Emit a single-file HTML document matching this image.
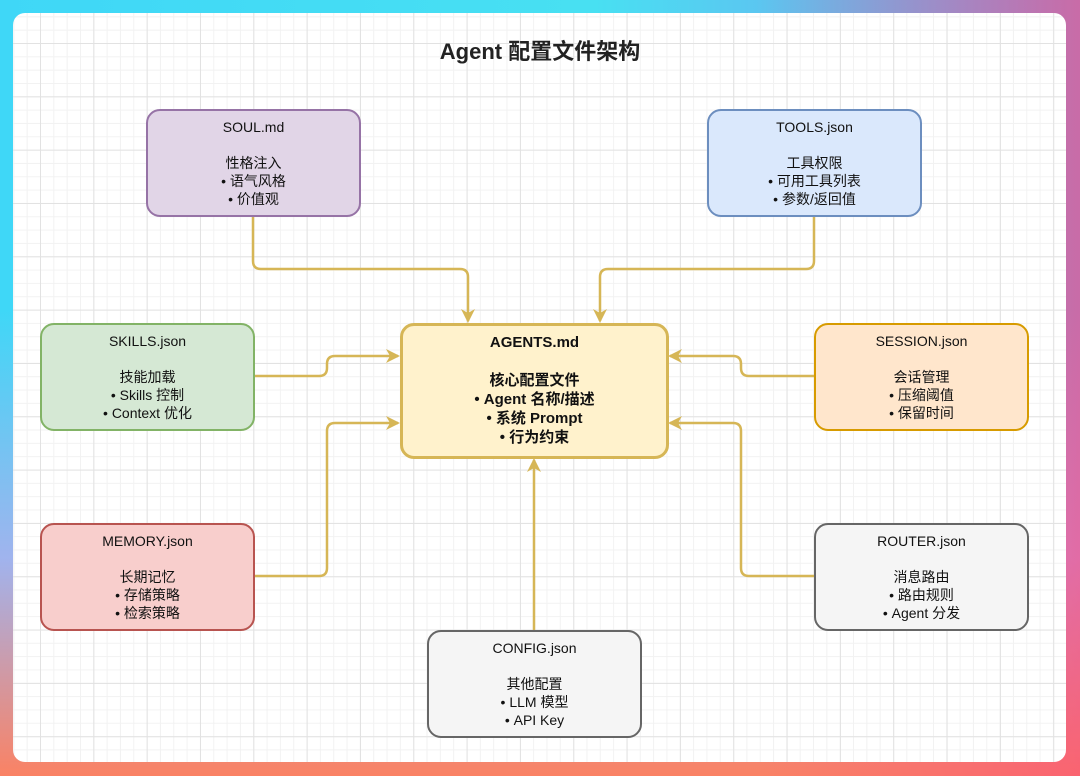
<!DOCTYPE html>
<html><head><meta charset="utf-8"><style>
html,body{margin:0;padding:0;width:1080px;height:776px;overflow:hidden}
body{position:relative;background:linear-gradient(90deg,#3fd7f7 0%,#48e0f2 55%,#7f95ee 100%)}
.bg2{position:absolute;inset:0;background:linear-gradient(180deg,rgba(255,255,255,0) 0%,rgba(255,255,255,0) 40%,rgba(240,150,230,0.55) 72%,rgba(250,130,100,1) 100%)}
.bg3{position:absolute;inset:0;background:linear-gradient(90deg,rgba(0,0,0,0) 70%,rgba(250,80,120,0.6) 100%)}
.frame{position:absolute;left:13px;top:13px;width:1053px;height:749px;border-radius:12px;background-color:#fff;
background-image:linear-gradient(#e2e2e2 1px,transparent 1px),linear-gradient(90deg,#e2e2e2 1px,transparent 1px),linear-gradient(#f2f2f2 1px,transparent 1px),linear-gradient(90deg,#f2f2f2 1px,transparent 1px);
background-size:53.33px 53.33px,53.33px 53.33px,13.33px 13.33px,13.33px 13.33px;
background-position:0 30px,27px 0,0 30px,27px 0;overflow:hidden}
.title{position:absolute;left:0;width:1080px;top:34px;text-align:center;font:bold 22px "Liberation Sans","Noto Sans CJK SC",sans-serif;color:#222}
.n{position:absolute;box-sizing:border-box;border:2.5px solid;border-radius:14px;text-align:center;font:14px/18px "Liberation Sans","Noto Sans CJK SC",sans-serif;color:#111;padding-top:7px}
svg{position:absolute;left:0;top:0}
</style></head><body>
<div class="bg2"></div><div class="bg3"></div>
<div class="frame"></div>
<div class="title">Agent 配置文件架构</div>
<svg width="1080" height="776">
<defs><marker id="a" markerWidth="14" markerHeight="14" refX="12" refY="7" orient="auto" markerUnits="userSpaceOnUse"><path d="M0,0 L14,7 L0,14 L4,7Z" fill="#d6b656"/></marker></defs>
<g fill="none" stroke="#d6b656" stroke-width="2.5" marker-end="url(#a)">
<path d="M253,216 V261 Q253,269 261,269 H460 Q468,269 468,277 V321"/>
<path d="M814,216 V261 Q814,269 806,269 H608 Q600,269 600,277 V321"/>
<path d="M254,376 H319 Q327,376 327,368 V364 Q327,356 335,356 H398"/>
<path d="M254,576 H319 Q327,576 327,568 V431 Q327,423 335,423 H398"/>
<path d="M814,376 H749 Q741,376 741,368 V364 Q741,356 733,356 H670"/>
<path d="M814,576 H749 Q741,576 741,568 V431 Q741,423 733,423 H670"/>
<path d="M534,630 V460"/>
</g></svg>
<div class="n" style="left:146px;top:109px;width:215px;height:108px;background:#e1d5e7;border-color:#9673a6">SOUL.md<br><br>性格注入<br>• 语气风格<br>• 价值观</div>
<div class="n" style="left:707px;top:109px;width:215px;height:108px;background:#dae8fc;border-color:#6c8ebf">TOOLS.json<br><br>工具权限<br>• 可用工具列表<br>• 参数/返回值</div>
<div class="n" style="left:40px;top:323px;width:215px;height:108px;background:#d5e8d4;border-color:#82b366">SKILLS.json<br><br>技能加载<br>• Skills 控制<br>• Context 优化</div>
<div class="n" style="left:400px;top:323px;width:269px;height:136px;background:#fff2cc;border-color:#d6b656;border-width:3px;font-weight:bold;font-size:15px;line-height:19px;padding-top:7px">AGENTS.md<br><br>核心配置文件<br>• Agent 名称/描述<br>• 系统 Prompt<br>• 行为约束</div>
<div class="n" style="left:814px;top:323px;width:215px;height:108px;background:#ffe6cc;border-color:#d79b00">SESSION.json<br><br>会话管理<br>• 压缩阈值<br>• 保留时间</div>
<div class="n" style="left:40px;top:523px;width:215px;height:108px;background:#f8cecc;border-color:#b85450">MEMORY.json<br><br>长期记忆<br>• 存储策略<br>• 检索策略</div>
<div class="n" style="left:814px;top:523px;width:215px;height:108px;background:#f5f5f5;border-color:#666666">ROUTER.json<br><br>消息路由<br>• 路由规则<br>• Agent 分发</div>
<div class="n" style="left:427px;top:630px;width:215px;height:108px;background:#f5f5f5;border-color:#666666">CONFIG.json<br><br>其他配置<br>• LLM 模型<br>• API Key</div>
</body></html>
